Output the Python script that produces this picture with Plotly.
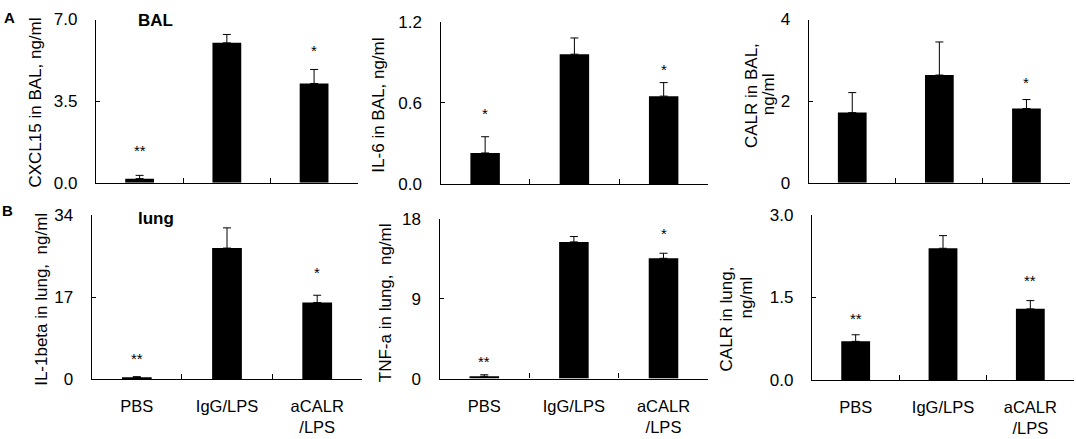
import plotly.graph_objects as go

W, H = 1076, 439

# ---------------- data ----------------
categories = ["PBS", "IgG/LPS", "aCALR<br>/LPS"]

cxcl15_bal = [0.18, 6.00, 4.26]
cxcl15_bal_err = [0.14, 0.36, 0.60]
cxcl15_bal_sig = ["**", "", "*"]

il6_bal = [0.23, 0.96, 0.65]
il6_bal_err = [0.12, 0.12, 0.10]
il6_bal_sig = ["*", "", "*"]

calr_bal = [1.72, 2.64, 1.82]
calr_bal_err = [0.49, 0.81, 0.22]
calr_bal_sig = ["", "", "*"]

il1b_lung = [0.28, 27.2, 15.9]
il1b_lung_err = [0.20, 4.2, 1.5]
il1b_lung_sig = ["**", "", "*"]

tnfa_lung = [0.26, 15.4, 13.55]
tnfa_lung_err = [0.17, 0.60, 0.57]
tnfa_lung_sig = ["**", "", "*"]

calr_lung = [0.70, 2.39, 1.29]
calr_lung_err = [0.12, 0.23, 0.15]
calr_lung_sig = ["**", "", "**"]

y_ticks_1 = [0.0, 3.5, 7.0]
y_ticks_2 = [0.0, 0.6, 1.2]
y_ticks_3 = [0, 2, 4]
y_ticks_4 = [0, 17, 34]
y_ticks_5 = [0, 9, 18]
y_ticks_6 = [0.0, 1.5, 3.0]

# ---------------- layout helpers ----------------
FONT = "Liberation Sans, Arial, sans-serif"

def fx(p):
    return p / W

def fy(p):
    return 1 - p / H

panels = [
    # values, errors, sig, ticks, tickfmt, x-domain px, y-domain px, show x labels, star shifts px
    (cxcl15_bal, cxcl15_bal_err, cxcl15_bal_sig, y_ticks_1, ".1f", (96, 357.7), (11, 181.7), False, [27.6, 0, 21.6]),
    (il6_bal, il6_bal_err, il6_bal_sig, y_ticks_2, ".1f", (440.5, 708.3), (13.3, 183), False, [26.7, 0, 16]),
    (calr_bal, calr_bal_err, calr_bal_sig, y_ticks_3, "d", (808.7, 1070), (11, 181.7), False, [0, 0, 19.7]),
    (il1b_lung, il1b_lung_err, il1b_lung_sig, y_ticks_4, "d", (91.7, 362.3), (215.7, 386.7), True, [21, 0, 26]),
    (tnfa_lung, tnfa_lung_err, tnfa_lung_sig, y_ticks_5, "d", (439.5, 708.3), (219.3, 386.3), True, [16, 0, 22.6]),
    (calr_lung, calr_lung_err, calr_lung_sig, y_ticks_6, ".1f", (812, 1074), (215, 387.7), True, [19.7, 0, 22.7]),
]

fig = go.Figure()
annotations = []
layout = dict(
    width=W, height=H,
    margin=dict(l=0, r=0, t=0, b=0),
    paper_bgcolor="white", plot_bgcolor="white",
    showlegend=False,
    font=dict(family=FONT, color="black", size=16),
)

for i, (vals, errs, sig, ticks, fmt, xd, yd, showx, shifts) in enumerate(panels, start=1):
    xa = "x" if i == 1 else f"x{i}"
    ya = "y" if i == 1 else f"y{i}"
    fig.add_trace(go.Bar(
        x=categories, y=vals,
        xaxis=xa, yaxis=ya,
        width=0.33,
        marker=dict(color="black", line=dict(width=0)),
        error_y=dict(type="data", array=errs, arrayminus=[0] * len(errs),
                     symmetric=False, color="black", thickness=1, width=4),
        hoverinfo="skip",
    ))
    if fmt == "d":
        ticktext = [f"{int(t)}" for t in ticks]
    else:
        ticktext = [f"{t:.1f}" for t in ticks]
    layout["xaxis" if i == 1 else f"xaxis{i}"] = dict(
        domain=[fx(xd[0]), fx(xd[1])], anchor=ya,
        type="category", range=[-0.5, 2.5],
        tickson="boundaries", ticks="inside", ticklen=5, tickwidth=1.2, tickcolor="black",
        showline=True, linecolor="black", linewidth=1.3,
        showgrid=False, zeroline=False,
        showticklabels=showx, tickfont=dict(size=16.5, family=FONT, color="black"),
        ticklabelstandoff=12,
        fixedrange=True,
    )
    layout["yaxis" if i == 1 else f"yaxis{i}"] = dict(
        domain=[fy(yd[1]), fy(yd[0])], anchor=xa,
        range=[ticks[0], ticks[-1]],
        tickvals=ticks, ticktext=ticktext,
        ticks="inside", ticklen=4, tickwidth=1.2, tickcolor="black",
        showline=True, linecolor="black", linewidth=1.3,
        showgrid=False, zeroline=False,
        tickfont=dict(size=17, family=FONT, color="black"),
        ticklabelstandoff=14,
        fixedrange=True,
    )
    for c, v, e, s, sh in zip(categories, vals, errs, sig, shifts):
        if s:
            annotations.append(dict(
                x=c, y=v + e, xref=xa, yref=ya, text=s, showarrow=False,
                xanchor="center", yanchor="middle", yshift=sh - 3,
                font=dict(size=15, family=FONT, color="black"),
            ))

# y-axis titles
ylabels = [
    ("CXCL15 in BAL, ng/ml", 35.8, 98),
    ("IL-6 in BAL, ng/ml", 379, 101),
    ("CALR in BAL,", 751, 91),
    ("ng/ml", 768, 89),
    ("IL-1beta in lung, \u00a0ng/ml", 42, 304),
    ("TNF-a in lung, \u00a0ng/ml", 385, 307.5),
    ("CALR in lung,", 726.5, 324),
    ("ng/ml", 746.5, 302),
]
for t, x, y in ylabels:
    annotations.append(dict(
        x=fx(x), y=fy(y), xref="paper", yref="paper", text=t, showarrow=False,
        textangle=-90, xanchor="center", yanchor="middle",
        font=dict(size=17, family=FONT, color="black"),
    ))

# panel letters and titles
for t, x, y, s in [("<b>A</b>", 9, 8.8, 15), ("<b>B</b>", 7.5, 210.5, 15),
                   ("<b>BAL</b>", 155, 12.5, 17), ("<b>lung</b>", 156, 219, 17)]:
    annotations.append(dict(
        x=fx(x), y=fy(y), xref="paper", yref="paper", text=t, showarrow=False,
        xanchor="center", yanchor="middle",
        font=dict(size=s, family=FONT, color="black"),
    ))

layout["annotations"] = annotations
fig.update_layout(**layout)
fig.write_html(
    "out.html",
    config={"displayModeBar": False},
    post_script="document.body.style.margin='0';document.body.style.overflow='hidden';",
)
